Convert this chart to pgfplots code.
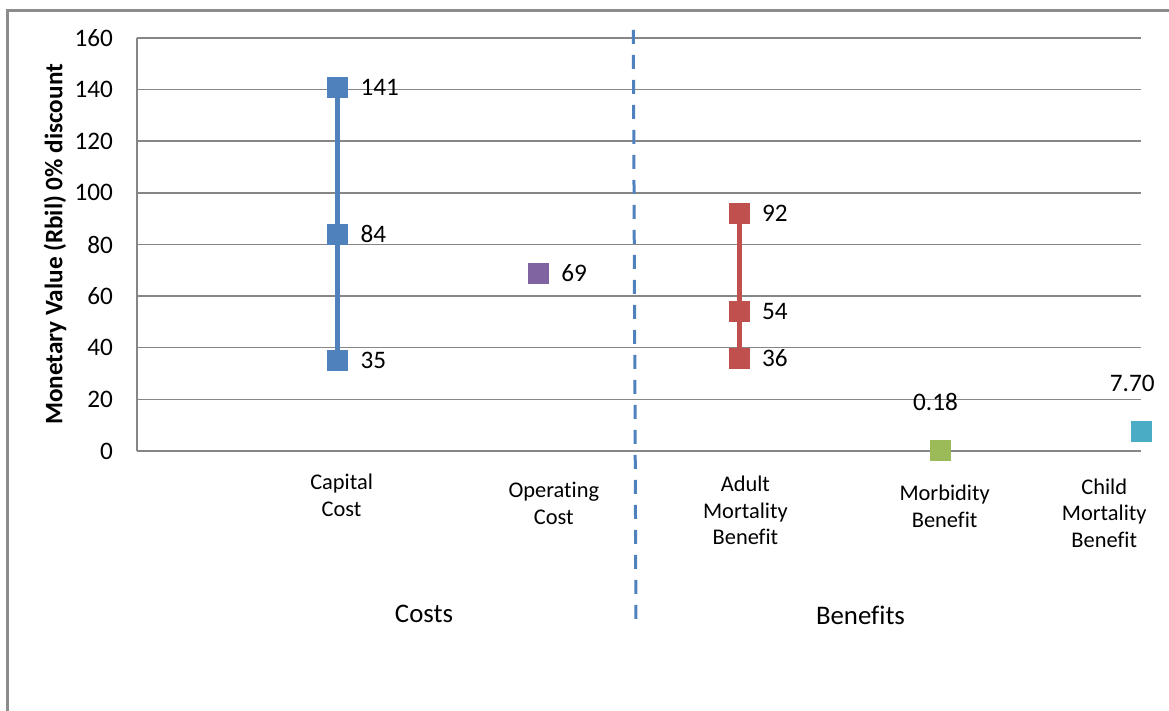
\documentclass[border=0pt]{standalone}
\usepackage{fontspec}
\setmainfont{Carlito}[Ligatures=CommonOff]
\usepackage{pgfplots}
\pgfplotsset{compat=1.18}

\definecolor{gridgray}{HTML}{868686}
\definecolor{framegray}{HTML}{8C8C8C}
\definecolor{capblue}{HTML}{4F81BD}
\definecolor{oppurple}{HTML}{8064A2}
\definecolor{adred}{HTML}{C0504D}
\definecolor{morgreen}{HTML}{9BBB59}
\definecolor{chaqua}{HTML}{4BACC6}

\begin{document}
\begin{tikzpicture}
\useasboundingbox (-68.5pt,-130pt) rectangle (516pt,225.5pt);
% outer chart frame
\draw[framegray, line width=1.25pt] (-64.85pt,-131pt) -- (-64.85pt,220.25pt) -- (517pt,220.25pt);
\begin{axis}[
  at={(0pt,0pt)}, anchor=south west,
  scale only axis, width=502pt, height=206.5pt,
  xmin=-1, xmax=4, ymin=0, ymax=160,
  clip=false,
  axis x line*=bottom, axis y line*=left,
  axis line style={-, draw=gridgray, line width=0.75pt},
  ytick={0,20,...,160},
  ymajorgrids, grid style={draw=gridgray, line width=0.75pt},
  major tick length=0pt,
  xtick={0.019,1.076,2.03,3.022,3.817},
  xticklabels={
    {\rule{0pt}{19.2pt}Capital\\Cost},
    {\rule{0pt}{23.3pt}Operating\\Cost},
    {\rule{0pt}{20.0pt}Adult\\Mortality\\Benefit},
    {\rule{0pt}{24.7pt}Morbidity\\Benefit},
    {\rule{0pt}{21.35pt}Child\\Mortality\\Benefit}},
  xticklabel style={anchor=north, inner sep=0pt, align=center, text=black,
    font=\fontsize{11.2}{13.4}\selectfont},
  yticklabel style={anchor=east, inner sep=0pt, xshift=-11.8pt, text=black,
    font=\fontsize{12.6}{14}\selectfont},
  /pgf/number format/assume math mode=true,
  ylabel={Monetary Value (Rbil) 0\% discount},
  every axis y label/.style={at={(axis description cs:-0.0817,0.5)}, rotate=90,
    anchor=center, font=\bfseries\fontsize{12.6}{14}\selectfont},
  mark size=5pt,
]
% divider between costs and benefits
\addplot[capblue, line width=1.5pt, dash pattern=on 7pt off 5.5pt, forget plot]
  coordinates {(1.4716,163.1) (1.485,-66.6)};

% capital cost range
\addplot[capblue, line width=2.3pt, mark=square*,
  mark options={fill=capblue, draw=capblue, line width=0.3pt},
  nodes near coords, point meta=explicit symbolic,
  every node near coord/.append style={anchor=west, xshift=11.2pt, inner sep=0pt,
    text=black, font=\fontsize{12.6}{14}\selectfont}]
  coordinates {(0,35) [35] (0,84) [84] (0,141) [141]};

% operating cost
\addplot[only marks, mark=square*,
  mark options={fill=oppurple, draw=oppurple, line width=0.3pt},
  nodes near coords, point meta=explicit symbolic,
  every node near coord/.append style={anchor=west, xshift=11.2pt, inner sep=0pt,
    text=black, font=\fontsize{12.6}{14}\selectfont}]
  coordinates {(1,69) [69]};

% adult mortality benefit range
\addplot[adred, line width=2.3pt, mark=square*,
  mark options={fill=adred, draw=adred, line width=0.3pt},
  nodes near coords, point meta=explicit symbolic,
  every node near coord/.append style={anchor=west, xshift=11.2pt, inner sep=0pt,
    text=black, font=\fontsize{12.6}{14}\selectfont}]
  coordinates {(2,36) [36] (2,54) [54] (2,92) [92]};

% morbidity benefit
\addplot[only marks, mark=square*,
  mark options={fill=morgreen, draw=morgreen, line width=0.3pt},
  nodes near coords, point meta=explicit symbolic,
  every node near coord/.append style={anchor=base, yshift=20pt, xshift=-2.35pt,
    inner sep=0pt, text=black, font=\fontsize{12.6}{14}\selectfont}]
  coordinates {(3,0.18) [0.18]};

% child mortality benefit
\addplot[only marks, mark=square*,
  mark options={fill=chaqua, draw=chaqua, line width=0.3pt},
  nodes near coords, point meta=explicit symbolic,
  every node near coord/.append style={anchor=base, yshift=20pt, xshift=-4.35pt,
    inner sep=0pt, text=black, font=\fontsize{12.6}{14}\selectfont}]
  coordinates {(4,7.7) [7.70]};
\end{axis}
\node[anchor=base, inner sep=0pt, font=\fontsize{13.4}{15}\selectfont] at (143.5pt,-85.85pt) {Costs};
\node[anchor=base, inner sep=0pt, font=\fontsize{13.4}{15}\selectfont] at (361.75pt,-87pt) {Benefits};
\end{tikzpicture}
\end{document}
